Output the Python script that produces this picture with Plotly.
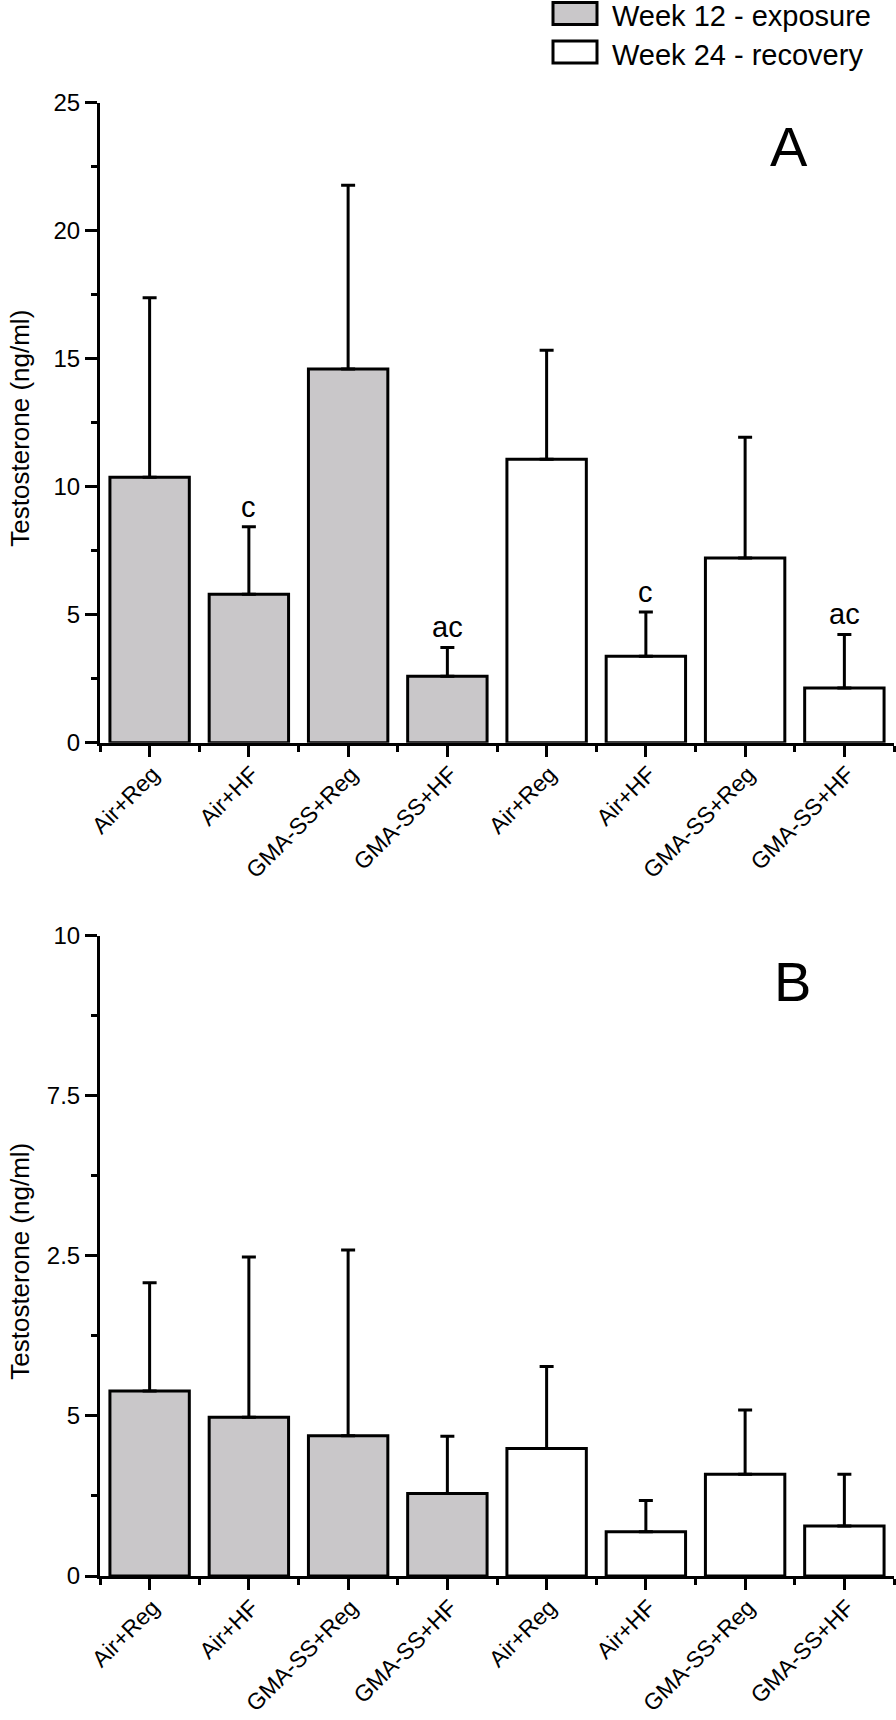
import plotly.graph_objects as go

W, H = 896, 1720
FONT = "Liberation Sans"

# ---------------- data ----------------
groups = ["Air+Reg", "Air+HF", "GMA-SS+Reg", "GMA-SS+HF"]
series_names = ["Week 12 - exposure", "Week 24 - recovery"]

# Panel A
a_week12 = [10.37, 5.80, 14.60, 2.60]
a_week12_err = [7.01, 2.64, 7.18, 1.12]
a_week24 = [11.07, 3.38, 7.21, 2.14]
a_week24_err = [4.26, 1.73, 4.72, 2.09]
a_week12_labels = ["", "c", "", "ac"]
a_week24_labels = ["", "c", "", "ac"]

# Panel B
b_week12 = [2.89, 2.48, 2.19, 1.29]
b_week12_err = [1.69, 2.50, 2.90, 0.89]
b_week24 = [1.99, 0.69, 1.59, 0.78]
b_week24_err = [1.28, 0.49, 1.00, 0.81]

a_tickvals = [0, 5, 10, 15, 20, 25]
a_ticktext = ["0", "5", "10", "15", "20", "25"]
b_tickvals = [0, 2.5, 5, 7.5, 10]
b_ticktext = ["0", "5", "2.5", "7.5", "10"]   # as printed in the original figure

y_title = "Testosterone (ng/ml)"
GRAY = "#c9c7c9"


def px_x(x):
    return x / W


def px_y(y):
    return 1 - y / H


fig = go.Figure()

n = len(groups)
x12 = [i for i in range(n)]
x24 = [i + n for i in range(n)]
all_ticks = x12 + x24
all_text = groups + groups


def add_bars(vals, errs, xs, fill, xa, ya):
    fig.add_trace(go.Bar(
        x=xs, y=vals, width=0.8,
        marker=dict(color=fill, line=dict(color="black", width=3)),
        error_y=dict(type="data", array=errs, arrayminus=[0] * len(errs),
                     symmetric=False, thickness=3, width=7, color="black"),
        xaxis=xa, yaxis=ya, showlegend=False,
    ))


add_bars(a_week12, a_week12_err, x12, GRAY, "x", "y")
add_bars(a_week24, a_week24_err, x24, "white", "x", "y")
add_bars(b_week12, b_week12_err, x12, GRAY, "x2", "y2")
add_bars(b_week24, b_week24_err, x24, "white", "x2", "y2")

annotations = []
for xs, vals, errs, labs in [(x12, a_week12, a_week12_err, a_week12_labels),
                             (x24, a_week24, a_week24_err, a_week24_labels)]:
    for xi, v, e, lab in zip(xs, vals, errs, labs):
        if lab:
            annotations.append(dict(x=xi, y=v + e, xref="x", yref="y", text=lab,
                                    showarrow=False, yanchor="bottom", yshift=2,
                                    font=dict(family=FONT, size=29, color="black")))

xdom = [px_x(100), px_x(894)]
ya_dom = [px_y(742.7), px_y(102.7)]
yb_dom = [px_y(1576), px_y(935.5)]

xcommon = dict(
    range=[-0.5, 2 * n - 0.5], tickmode="array", tickvals=all_ticks, ticktext=all_text,
    tickangle=-45, ticks="outside", ticklen=11, tickwidth=3, tickcolor="black",
    showline=True, linewidth=3, linecolor="black", showgrid=False, zeroline=False,
    tickfont=dict(family=FONT, size=23, color="black"),
    ticklabelstandoff=-5, ticklabelshift=3,
    minor=dict(tick0=0.5, dtick=1, ticks="outside", ticklen=6, tickwidth=3,
               tickcolor="black", showgrid=False),
    domain=xdom, fixedrange=True, automargin=False,
)
ycommon = dict(
    ticks="outside", ticklen=12, tickwidth=3, tickcolor="black",
    showline=True, linewidth=3, linecolor="black", showgrid=False, zeroline=False,
    tickfont=dict(family=FONT, size=24, color="black"), fixedrange=True,
    automargin=False,
)

fig.update_layout(
    width=W, height=H,
    margin=dict(l=0, r=0, t=0, b=0, autoexpand=False),
    paper_bgcolor="white", plot_bgcolor="white",
    bargap=0.2, showlegend=False,
    font=dict(family=FONT, color="black"),
    xaxis=dict(**xcommon, anchor="y"),
    xaxis2=dict(**xcommon, anchor="y2"),
    yaxis=dict(**ycommon, domain=ya_dom, range=[0, 25], tickmode="array",
               tickvals=a_tickvals, ticktext=a_ticktext, anchor="x",
               minor=dict(dtick=2.5, tick0=0, ticks="outside", ticklen=6, tickwidth=3,
                          tickcolor="black", showgrid=False)),
    yaxis2=dict(**ycommon, domain=yb_dom, range=[0, 10], tickmode="array",
                tickvals=b_tickvals, ticktext=b_ticktext, anchor="x2",
                minor=dict(dtick=1.25, tick0=0, ticks="outside", ticklen=6, tickwidth=3,
                           tickcolor="black", showgrid=False)),
)

for dom in (ya_dom, yb_dom):
    annotations.append(dict(x=px_x(20), y=(dom[0] + dom[1]) / 2 - 6 / H, xref="paper",
                            yref="paper", text=y_title, textangle=-90, showarrow=False,
                            xanchor="center", yanchor="middle",
                            font=dict(family=FONT, size=26, color="black")))

annotations.append(dict(x=px_x(789), y=px_y(146), xref="paper", yref="paper", text="A",
                        showarrow=False, xanchor="center", yanchor="middle",
                        font=dict(family=FONT, size=56, color="black")))
annotations.append(dict(x=px_x(792), y=px_y(981), xref="paper", yref="paper", text="B",
                        showarrow=False, xanchor="center", yanchor="middle",
                        font=dict(family=FONT, size=56, color="black")))

shapes = []
for i, (name, fill) in enumerate(zip(series_names, [GRAY, "white"])):
    yc = [13.5, 52][i]
    shapes.append(dict(type="rect", xref="paper", yref="paper",
                       x0=px_x(553), x1=px_x(597), y0=px_y(yc + 11), y1=px_y(yc - 11),
                       fillcolor=fill, line=dict(color="black", width=3)))
    annotations.append(dict(x=px_x(611), y=px_y(yc + 3), xref="paper", yref="paper", text=name,
                            showarrow=False, xanchor="left", yanchor="middle", borderpad=0,
                            font=dict(family=FONT, size=29, color="black")))

fig.update_layout(annotations=annotations, shapes=shapes)

fig.write_html(
    "out.html",
    config={"displayModeBar": False},
    post_script="document.body.style.margin='0px';document.body.style.padding='0px';"
                "document.body.style.overflow='hidden';",
)
